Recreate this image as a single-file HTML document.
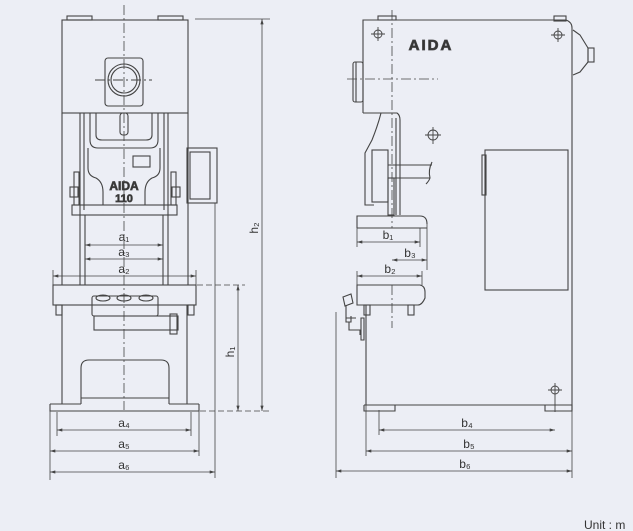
<!DOCTYPE html>
<html><head><meta charset="utf-8"><style>
html,body{margin:0;padding:0;background:#eceef5;}
svg{display:block}
text{font-family:"Liberation Sans",sans-serif;fill:#333;}
</style></head><body>
<svg width="633" height="531" viewBox="0 0 633 531" xmlns="http://www.w3.org/2000/svg">
<rect width="633" height="531" fill="#eceef5"/>
<defs>
<marker id="ar" viewBox="0 0 10 6" refX="10" refY="3" markerWidth="8" markerHeight="4" orient="auto-start-reverse"><path d="M0,0 L10,3 L0,6 z" fill="#444"/></marker>
</defs>
<g stroke="#444" stroke-width="1.1" fill="none">
<!-- FRONT VIEW -->
<rect x="67" y="16" width="25" height="4"/><rect x="158" y="16" width="25" height="4"/>
<rect x="62" y="20" width="126" height="93"/>
<rect x="105" y="58" width="38" height="48" rx="3"/>
<circle cx="124" cy="80" r="16"/><circle cx="124" cy="80" r="13"/>
<line x1="95" y1="80" x2="152" y2="80" stroke-dasharray="10,3,2,3"/>
<line x1="62" y1="113" x2="62" y2="285"/><line x1="188" y1="113" x2="188" y2="285"/>
<line x1="80" y1="113" x2="80" y2="285"/><line x1="168" y1="113" x2="168" y2="285"/>
<path d="M84,113 V210 M164,113 V210"/>
<path d="M90,113 V140 Q90,148 98,148 H150 Q158,148 158,140 V113"/>
<path d="M96,113 V135 Q96,140 102,140 H146 Q152,140 152,135 V113"/>
<rect x="120" y="113" width="8" height="22" rx="3"/>
<path d="M88,148 V168 Q88,176 96,178 Q103,182 103,192 V205 M160,148 V168 Q160,176 152,178 Q145,182 145,192 V205"/>
<rect x="133" y="156" width="17" height="11"/>
<rect x="72" y="205" width="105" height="10"/>
<rect x="74" y="172" width="5" height="33"/><rect x="70" y="187" width="8" height="10"/>
<rect x="171" y="172" width="5" height="33"/><rect x="172" y="187" width="8" height="10"/>
<rect x="187" y="148" width="30" height="55"/><rect x="190" y="152" width="20" height="47"/>
<line x1="85" y1="215" x2="85" y2="285"/><line x1="163" y1="215" x2="163" y2="285"/>
<rect x="53" y="285" width="143" height="20"/>
<rect x="56" y="305" width="6" height="10"/><rect x="188" y="305" width="6" height="10"/>
<line x1="62" y1="305" x2="62" y2="404"/><line x1="187" y1="305" x2="187" y2="404"/>
<rect x="92" y="296" width="66" height="20" rx="2"/>
<ellipse cx="103" cy="298" rx="7" ry="3"/><ellipse cx="124" cy="298" rx="7" ry="3"/><ellipse cx="146" cy="298" rx="7" ry="3"/>
<rect x="94" y="316" width="84" height="14"/><rect x="170" y="314" width="7" height="20"/>
<path d="M81,404 V368 Q81,360 89,360 H161 Q169,360 169,368 V404"/>
<line x1="81" y1="398" x2="169" y2="398"/>
<path d="M50,404 H81 M169,404 H199 M50,404 V411 H199 V404"/>
<line x1="124" y1="5" x2="124" y2="410" stroke-dasharray="10,3,2,3" stroke-width="0.8"/>
<!-- dims front -->
<line x1="85" y1="230" x2="85" y2="262" stroke-width="0.8"/><line x1="163" y1="230" x2="163" y2="262" stroke-width="0.8"/>
<line x1="85" y1="245" x2="163" y2="245" stroke-width="0.8" marker-start="url(#ar)" marker-end="url(#ar)"/>
<line x1="85" y1="259" x2="163" y2="259" stroke-width="0.8" marker-start="url(#ar)" marker-end="url(#ar)"/>
<line x1="53" y1="270" x2="53" y2="285" stroke-width="0.8"/><line x1="196" y1="270" x2="196" y2="285" stroke-width="0.8"/>
<line x1="53" y1="276" x2="196" y2="276" stroke-width="0.8" marker-start="url(#ar)" marker-end="url(#ar)"/>
<line x1="57" y1="412" x2="57" y2="436" stroke-width="0.8"/><line x1="191" y1="412" x2="191" y2="436" stroke-width="0.8"/>
<line x1="57" y1="430" x2="191" y2="430" stroke-width="0.8" marker-start="url(#ar)" marker-end="url(#ar)"/>
<line x1="50" y1="411" x2="50" y2="480" stroke-width="0.8"/><line x1="199" y1="411" x2="199" y2="456" stroke-width="0.8"/>
<line x1="50" y1="451" x2="199" y2="451" stroke-width="0.8" marker-start="url(#ar)" marker-end="url(#ar)"/>
<line x1="215" y1="203" x2="215" y2="478" stroke-width="0.8"/>
<line x1="50" y1="472" x2="215" y2="472" stroke-width="0.8" marker-start="url(#ar)" marker-end="url(#ar)"/>
<line x1="195" y1="19" x2="270" y2="19" stroke-width="0.8"/>
<line x1="262" y1="19" x2="262" y2="411" stroke-width="0.8" marker-start="url(#ar)" marker-end="url(#ar)"/>
<line x1="197" y1="285" x2="245" y2="285" stroke-width="0.8" stroke-dasharray="6,3"/>
<line x1="238" y1="285" x2="238" y2="411" stroke-width="0.8" marker-start="url(#ar)" marker-end="url(#ar)"/>
<line x1="200" y1="411" x2="270" y2="411" stroke-width="0.8" stroke-dasharray="6,3"/>
<!-- SIDE VIEW -->
<rect x="378" y="16" width="18" height="4"/><rect x="554" y="16" width="12" height="5"/>
<path d="M363,113 V20 H566 Q572,22 572,28 V410"/>
<path d="M363,113 H393"/>
<rect x="353" y="62" width="10" height="40" rx="2"/><line x1="356" y1="62" x2="356" y2="102"/>
<path d="M573,30 L580,35 L588,48 V62 L580,72 L573,75"/>
<rect x="588" y="48" width="6" height="14"/>
<path d="M381,113 Q378,125 372,140 L365,153 V205 H374"/>
<path d="M393,113 H397 Q400,115 400,120 V215"/>
<line x1="396" y1="118" x2="396" y2="215"/>
<rect x="372" y="150" width="16" height="52"/>
<path d="M388,165 H432 M388,178 H430 M432,162 Q428,170 430,178 Q429,181 426,184"/>
<rect x="388" y="178" width="6" height="37"/>
<path d="M357,228 V216 H420 Q427,216 427,224 M357,228 H427"/>
<path d="M357,285 H420 Q425,286 425,292 V298 Q422,305 418,305 H357 Z"/>
<line x1="427" y1="224" x2="427" y2="270" stroke-width="0.8"/>
<rect x="364" y="305" width="6" height="10"/><rect x="408" y="305" width="6" height="10"/>
<path d="M366,305 V405"/>
<path d="M343,297 L351,294 L353,303 L345,306 Z M346,306 V322 H351 V316 M346,318 H356 M349,322 V330 H360 V335 M361,318 V340 H364 V318 Z"/>
<line x1="336" y1="312" x2="336" y2="478" stroke-width="0.8"/>
<rect x="485" y="150" width="83" height="140"/><rect x="482" y="155" width="4" height="40"/>
<path d="M364,405 H572 V411 H545 V405 M364,405 V411 H395 V405"/>
<line x1="392" y1="10" x2="392" y2="228" stroke-dasharray="10,3,2,3" stroke-width="0.8"/>
<line x1="392" y1="285" x2="392" y2="328" stroke-dasharray="10,3,2,3" stroke-width="0.8"/>
<line x1="347" y1="79" x2="438" y2="79" stroke-dasharray="10,3,2,3" stroke-width="0.8"/>
<g stroke-width="0.9">
<circle cx="378" cy="34" r="4"/><path d="M371,34 H385 M378,27 V41"/>
<circle cx="558" cy="35" r="4"/><path d="M551,35 H565 M558,28 V42"/>
<circle cx="433" cy="135" r="5"/><path d="M425,135 H441 M433,127 V144"/>
<circle cx="555" cy="390" r="4"/><path d="M548,390 H562 M555,383 V412"/>
</g>
<!-- dims side -->
<line x1="357" y1="228" x2="357" y2="247" stroke-width="0.8"/><line x1="420" y1="228" x2="420" y2="247" stroke-width="0.8"/>
<line x1="357" y1="242" x2="420" y2="242" stroke-width="0.8" marker-start="url(#ar)" marker-end="url(#ar)"/>
<line x1="392" y1="260" x2="427" y2="260" stroke-width="0.8" marker-start="url(#ar)" marker-end="url(#ar)"/>
<line x1="357" y1="271" x2="357" y2="285" stroke-width="0.8"/><line x1="422" y1="271" x2="422" y2="285" stroke-width="0.8"/>
<line x1="357" y1="276" x2="422" y2="276" stroke-width="0.8" marker-start="url(#ar)" marker-end="url(#ar)"/>
<line x1="379" y1="410" x2="379" y2="435" stroke-width="0.8"/>
<line x1="379" y1="430" x2="555" y2="430" stroke-width="0.8" marker-start="url(#ar)" marker-end="url(#ar)"/>
<line x1="366" y1="405" x2="366" y2="456" stroke-width="0.8"/><line x1="572" y1="410" x2="572" y2="478" stroke-width="0.8"/>
<line x1="366" y1="451" x2="572" y2="451" stroke-width="0.8" marker-start="url(#ar)" marker-end="url(#ar)"/>
<line x1="336" y1="471" x2="572" y2="471" stroke-width="0.8" marker-start="url(#ar)" marker-end="url(#ar)"/>
</g>
<g font-size="12" text-anchor="middle">
<text x="124" y="241">a₁</text><text x="124" y="256">a₃</text><text x="124" y="273">a₂</text>
<text x="124" y="427">a₄</text><text x="124" y="448">a₅</text><text x="124" y="469">a₆</text>
<text x="388" y="239">b₁</text><text x="410" y="257">b₃</text><text x="390" y="273">b₂</text>
<text x="467" y="427">b₄</text><text x="469" y="448">b₅</text><text x="465" y="468">b₆</text>
<text transform="translate(258,228) rotate(-90)">h₂</text>
<text transform="translate(234,352) rotate(-90)">h₁</text>
</g>
<text x="124" y="190" font-size="12" font-weight="bold" text-anchor="middle" fill="#eceef5" stroke="#444" stroke-width="0.7">AIDA</text>
<text x="124" y="202" font-size="11" font-weight="bold" text-anchor="middle" fill="#eceef5" stroke="#444" stroke-width="0.7">110</text>
<text x="431" y="50" font-size="15" font-weight="bold" text-anchor="middle" fill="#eceef5" stroke="#444" stroke-width="0.8" letter-spacing="2">AIDA</text>
<text x="584" y="529" font-size="12">Unit : m</text>
</svg>
</body></html>
